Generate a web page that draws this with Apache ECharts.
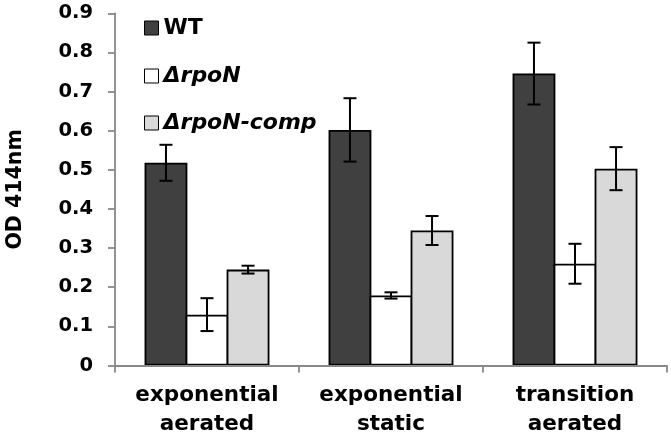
<!DOCTYPE html>
<html>
<head>
<meta charset="utf-8">
<script src="https://cdn.jsdelivr.net/npm/echarts@6/dist/echarts.min.js"></script>
<style>html,body{margin:0;padding:0;background:#fff}#c{width:671px;height:437px}</style>
</head>
<body>
<div id="c"></div>
<script>
const categories = ['exponential\naerated', 'exponential\nstatic', 'transition\naerated'];
const seriesNames = ['WT', '\u0394rpoN', '\u0394rpoN-comp'];
const wtValues = [0.518, 0.602, 0.746];
const wtErrors = [0.046, 0.081, 0.079];
const rpoNValues = [0.130, 0.179, 0.260];
const rpoNErrors = [0.042, 0.008, 0.051];
const compValues = [0.245, 0.345, 0.503];
const compErrors = [0.010, 0.037, 0.055];
const yMin = 0, yMax = 0.9, yInterval = 0.1;

const FONT = 'DejaVu Sans';
const BAR_FRAC = 0.223;
const BORDER = 1.8;
const fills = ['#404040', '#ffffff', '#d9d9d9'];
const values = [wtValues, rpoNValues, compValues];
const errors = [wtErrors, rpoNErrors, compErrors];

const chart = echarts.init(document.getElementById('c'), null, {renderer: 'canvas'});

const gridW = 671 - 115 - 4;
const bandPx = gridW / categories.length;
const layoutBarPx = bandPx * BAR_FRAC + BORDER;

const barSeries = values.map((vals, s) => ({
  name: seriesNames[s],
  type: 'bar',
  data: vals,
  barWidth: layoutBarPx,
  barGap: (-BORDER / layoutBarPx * 100) + '%',
  itemStyle: {color: fills[s], borderColor: '#000', borderWidth: BORDER},
  z: 2
}));

const errData = [];
errors.forEach((errs, s) => errs.forEach((e, i) => errData.push([i, values[s][i], e, s])));

const errSeries = {
  type: 'custom',
  data: errData,
  encode: {x: 0, y: 1},
  z: 5,
  silent: true,
  renderItem: function (params, api) {
    const i = api.value(0), v = api.value(1), e = api.value(2), s = api.value(3);
    const band = api.size([1, 0])[0];
    const cx = api.coord([i, v])[0] + (s - 1) * band * BAR_FRAC;
    const yT = api.coord([i, v + e])[1];
    const yB = api.coord([i, v - e])[1];
    const cap = 6.5;
    const st = {stroke: '#000', lineWidth: 2};
    return {
      type: 'group',
      children: [
        {type: 'line', shape: {x1: cx, y1: yT, x2: cx, y2: yB}, style: st},
        {type: 'line', shape: {x1: cx - cap, y1: yT, x2: cx + cap, y2: yT}, style: st},
        {type: 'line', shape: {x1: cx - cap, y1: yB, x2: cx + cap, y2: yB}, style: st}
      ]
    };
  }
};

const legendCenters = [28, 76, 123];
const legends = seriesNames.map((n, s) => ({
  data: [n],
  left: 144,
  top: legendCenters[s] - 11,
  padding: 0,
  icon: 'rect',
  itemWidth: 14,
  itemHeight: 14,
  selectedMode: false,
  itemStyle: {borderColor: '#000', borderWidth: 1},
  textStyle: {fontFamily: FONT, fontWeight: 'bold', fontStyle: s === 0 ? 'normal' : 'italic', fontSize: 22, lineHeight: 22, color: '#000'}
}));

chart.setOption({
  animation: false,
  backgroundColor: '#fff',
  grid: {left: 115, right: 4, top: 13.3, bottom: 71.5, containLabel: false, outerBoundsMode: 'none'},
  legend: legends,
  xAxis: {
    type: 'category',
    data: categories,
    z: 3,
    axisLine: {lineStyle: {color: '#888', width: 1.8}},
    axisTick: {show: true, length: 7, lineStyle: {color: '#888', width: 1.8}},
    axisLabel: {fontFamily: FONT, fontWeight: 'bold', fontSize: 21.5, lineHeight: 29.5, color: '#000', margin: 15, interval: 0}
  },
  yAxis: {
    type: 'value',
    min: yMin, max: yMax, interval: yInterval,
    name: 'OD 414nm',
    nameLocation: 'middle',
    nameGap: 89,
    nameTextStyle: {fontFamily: FONT, fontWeight: 'bold', fontSize: 20.5, color: '#000'},
    splitLine: {show: false},
    axisLine: {show: true, lineStyle: {color: '#888', width: 1.8}},
    axisTick: {show: true, length: 7, lineStyle: {color: '#888', width: 1.8}},
    axisLabel: {fontFamily: FONT, fontWeight: 'bold', fontSize: 19.5, color: '#000', margin: 22,
      formatter: v => (Math.round(v * 10) / 10).toString()}
  },
  series: barSeries.concat([errSeries])
});
</script>
</body>
</html>
